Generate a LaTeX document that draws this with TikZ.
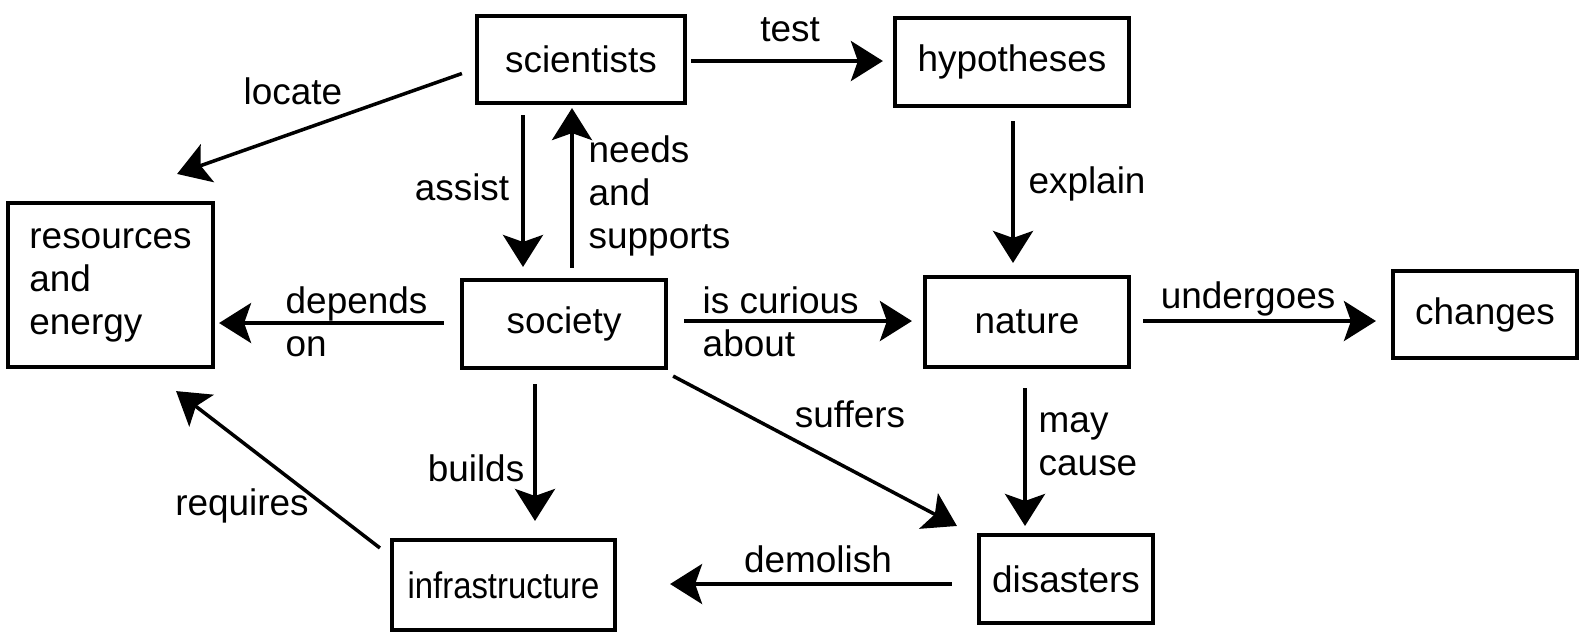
\documentclass[tikz,border=0pt]{standalone}
\usepackage{fontspec}
\setmainfont{Liberation Sans}
\usepackage{tikz}
\usetikzlibrary{arrows.meta,positioning}

\begin{document}
\begin{tikzpicture}[x=0.01cm, y=-0.01cm,
	every node/.style={font=\fontsize{10.5}{12.2}\selectfont},
	box/.style={draw, line width=1.15pt, inner sep=0pt, align=left},
	lbl/.style={inner sep=0pt, align=left},
	arr/.style={line width=1pt, -{Stealth[length=0.32cm, width=0.40cm, inset=0.07cm]}}]
		\useasboundingbox (0,0) rectangle (1583,635);
		
		\node[box, minimum width=2.08cm, minimum height=0.87cm](SCI) at (581,59.5){scientists};
		\node[box, minimum width=2.34cm, minimum height=0.88cm](HYP) at (1012,62){hypotheses};
		\node[box, minimum width=2.05cm, minimum height=1.64cm](RES) at (110.5,285){resources\\and\\energy};
		\node[box, minimum width=2.04cm, minimum height=0.88cm](SOC) at (564,324){society};
		\node[box, minimum width=2.04cm, minimum height=0.90cm](NAT) at (1027,322){nature};
		\node[box, minimum width=1.84cm, minimum height=0.87cm](CHG) at (1485,314.5){changes};
		\node[box, minimum width=2.23cm, minimum height=0.90cm](INF) at (503.5,585){\scalebox{0.89}[1]{infrastructure}};
		\node[box, minimum width=1.74cm, minimum height=0.88cm](DIS) at (1066,579){disasters};
		
		\draw[arr] ([shift={(4,1.5)}]SCI.east) -- ([shift={(-10,-1)}]HYP.west);
		\draw[arr] ([shift={(-13,14)}]SCI.west) -- ([shift={(-38,-27)}]RES.north east);
		\draw[arr] ([shift={(-58,10)}]SCI.south) -- ([shift={(-41,-11)}]SOC.north);
		\draw[arr] ([shift={(8,-10)}]SOC.north) -- ([shift={(-9,3)}]SCI.south);
		\draw[arr] ([shift={(1,13)}]HYP.south) -- ([shift={(-14,-12)}]NAT.north);
		\draw[arr] ([shift={(-16,-1)}]SOC.west) -- ([shift={(4,38)}]RES.east);
		\draw[arr] ([shift={(16,-3)}]SOC.east) -- ([shift={(-11,-1)}]NAT.west);
		\draw[arr] ([shift={(12,-1)}]NAT.east) -- ([shift={(-15,6.5)}]CHG.west);
		\draw[arr] ([shift={(-29,14)}]SOC.south) -- ([shift={(31.5,-17)}]INF.north);
		\draw[arr] ([shift={(5,6)}]SOC.south east) -- ([shift={(-20,-7)}]DIS.north west);
		\draw[arr] ([shift={(-2,19)}]NAT.south) -- ([shift={(-41,-7)}]DIS.north);
		\draw[arr] ([shift={(-25,5)}]DIS.west) -- ([shift={(53,-1)}]INF.east);
		\draw[arr] ([shift={(-10,10)}]INF.north west) -- ([shift={(-39,22)}]RES.south east);
		
		\node[lbl](TEST) at (790,30){test};
		\node[lbl](LOC) at (293,91){locate};
		\node[lbl](ASS) at (462,187){assist};
		\node[lbl, anchor=west](NEED) at (588,196){needs\\and\\supports};
		\node[lbl](EXP) at (1087,184){explain};
		\node[lbl, anchor=west](DEP) at (285,322){depends\\on};
		\node[lbl, anchor=west](CUR) at (702,322){is curious\\about};
		\node[lbl](UND) at (1248,299){undergoes};
		\node[lbl](BLD) at (476,468){builds};
		\node[lbl](SUF) at (850,414){suffers};
		\node[lbl, anchor=west](MAY) at (1038,444){may\\cause};
		\node[lbl](DEM) at (818,559){demolish};
		\node[lbl](REQ) at (242,506){requires};
\end{tikzpicture}
\end{document}
